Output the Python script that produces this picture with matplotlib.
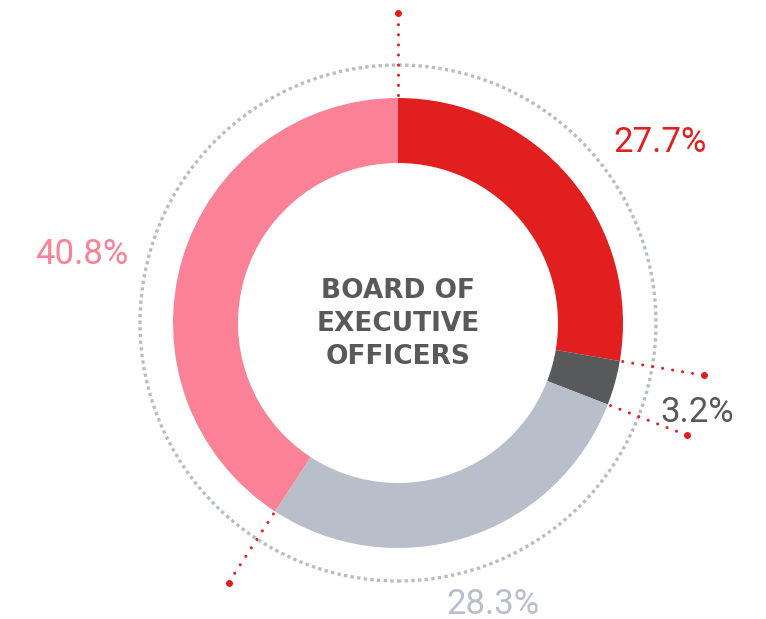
import matplotlib
matplotlib.use('Agg')
import matplotlib.pyplot as plt
import numpy as np
from matplotlib.patches import Circle

labels = ['27.7%', '3.2%', '28.3%', '40.8%']
values = [27.7, 3.2, 28.3, 40.8]
colors = ['#E21F1F', '#58595B', '#B8BFCB', '#FA8196']
label_colors = ['#E21F1F', '#58595B', '#B8BFCB', '#FA8196']
label_pos = [(262, 181), (299, -89), (95, -281), (-316, 68)]
center_text = 'BOARD OF\nEXECUTIVE\nOFFICERS'

fig = plt.figure(figsize=(7.66, 6.19), dpi=100)
ax = fig.add_axes([0, 0, 1, 1])

R_OUT, R_IN = 225, 160
ax.pie(values, colors=colors, startangle=90, counterclock=False,
       radius=R_OUT, center=(0, 0),
       wedgeprops=dict(width=R_OUT - R_IN, linewidth=0))

# dotted ring around the donut
ax.add_patch(Circle((0, 0), 258, fill=False, edgecolor='#B8BCC8',
                    linewidth=2.4, linestyle=(0, (1, 1.0))))

# red dotted leaders at slice boundaries (top, red|dark, dark|light, light|pink)
bounds = np.cumsum([0] + values[:-1])
for b in bounds:
    ang = np.deg2rad(90 - b * 3.6)
    r = np.array([228, 310])
    xs, ys = r * np.cos(ang), r * np.sin(ang)
    ax.plot(xs, ys, color='#E21F1F', linewidth=2.2,
            linestyle=(0, (0.01, 3.3)), dash_capstyle='round')
    ax.plot(xs[-1], ys[-1], 'o', color='#E21F1F', markersize=4)

for lab, (x, y), c in zip(labels, label_pos, label_colors):
    ax.text(x, y, lab, color=c, fontsize=25, family='Roboto',
            ha='center', va='center')

ax.text(0, -1, center_text, color='#58595B', fontsize=19, family='DejaVu Sans',
        fontweight='bold', ha='center', va='center', linespacing=1.33)

ax.set_xlim(-398, 368)
ax.set_ylim(-296, 323)
ax.set_aspect('equal')
ax.axis('off')

fig.savefig('out.png', dpi=100, facecolor='white')
